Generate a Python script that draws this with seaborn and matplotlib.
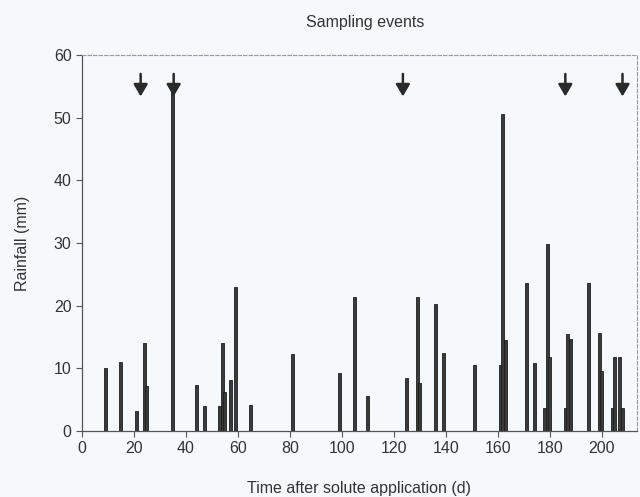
import matplotlib
matplotlib.use("Agg")
import matplotlib.pyplot as plt
import seaborn as sns
import pandas as pd

# Data
days = [9, 15, 21, 24, 25, 35, 44, 47, 53, 54, 55, 57, 59, 65, 81, 99, 105, 110,
        125, 129, 130, 136, 139, 151, 161, 162, 163, 171, 174, 178, 179, 180,
        186, 187, 188, 195, 199, 200, 204, 205, 207, 208]
rainfall = [10.1, 11.0, 3.1, 14.1, 7.2, 54.7, 7.3, 4.0, 4.0, 14.1, 6.2, 8.2, 23.0,
            4.1, 12.3, 9.3, 21.4, 5.5, 8.5, 21.4, 7.6, 20.3, 12.4, 10.6, 10.5,
            50.6, 14.5, 23.6, 10.8, 3.6, 29.8, 11.8, 3.6, 15.5, 14.6, 23.6, 15.6,
            9.6, 3.6, 11.8, 11.8, 3.6]
sampling_days = [22.6, 35.3, 123.5, 186, 208]
x_ticks = list(range(0, 201, 20))
y_ticks = list(range(0, 61, 10))

sns.set_theme(style="ticks")
plt.rcParams['font.family'] = ['Liberation Sans', 'DejaVu Sans']

bg = '#f6f9fb'
txt = '#333333'
fig = plt.figure(figsize=(6.4, 4.97), dpi=100, facecolor=bg)
ax = fig.add_axes([0.128, 0.133, 0.867, 0.756])
ax.set_facecolor(bg)

df = pd.DataFrame({"day": days, "rain": rainfall})
sns.barplot(data=df, x="day", y="rain", native_scale=True, width=1.15,
            color='#3a3a3a', edgecolor='#1e1e1e', linewidth=0.6,
            errorbar=None, saturation=1, ax=ax)

ax.set_xlim(0, 213.5)
ax.set_ylim(0, 60)
ax.set_xticks(x_ticks)
ax.set_yticks(y_ticks)
ax.tick_params(direction='out', length=4, width=0.8, colors='#555555',
               labelcolor=txt, labelsize=11.5)

for s in ['left', 'bottom']:
    ax.spines[s].set_color('#555555')
    ax.spines[s].set_linewidth(0.9)
for s in ['top', 'right']:
    ax.spines[s].set_color('#9a9a9a')
    ax.spines[s].set_linewidth(0.8)
    ax.spines[s].set_linestyle((0, (3, 2)))

ax.set_xlabel('Time after solute application (d)', fontsize=11.5, color=txt, labelpad=18)
ax.set_ylabel('Rainfall (mm)', fontsize=11.5, color=txt, labelpad=17)

for d in sampling_days:
    ax.annotate('', xy=(d, 53.4), xytext=(d, 57.0),
                arrowprops=dict(arrowstyle='-|>,head_length=0.6,head_width=0.35',
                                color='#2a2a2a', lw=1.8, shrinkA=0, shrinkB=0))

fig.text(0.57, 0.955, 'Sampling events', ha='center', va='center',
         fontsize=11.5, color=txt)

fig.savefig('out.png', dpi=100, facecolor=bg)
